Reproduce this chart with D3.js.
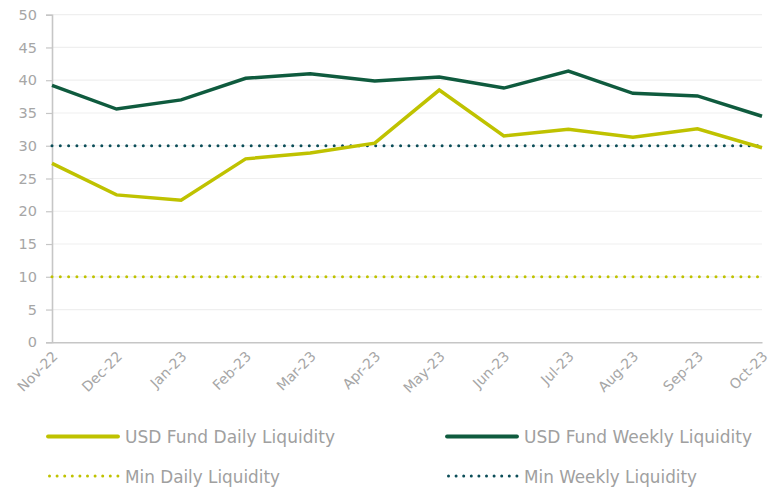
<!DOCTYPE html>
<html>
<head>
<meta charset="utf-8">
<script src="https://cdn.jsdelivr.net/npm/d3@7"></script>
<style>
  body { margin: 0; background: #fff; }
  svg { display: block; }
</style>
</head>
<body>
<svg id="chart" width="779" height="487"></svg>
<script>
const months = ["Nov-22", "Dec-22", "Jan-23", "Feb-23", "Mar-23", "Apr-23",
  "May-23", "Jun-23", "Jul-23", "Aug-23", "Sep-23", "Oct-23"]
const dailyLiquidity = [27.3, 22.5, 21.7, 28.0, 28.9, 30.4, 38.5, 31.5, 32.5, 31.3, 32.6, 29.7]
const weeklyLiquidity = [39.2, 35.6, 37.0, 40.3, 41.0, 39.9, 40.5, 38.8, 41.4, 38.0, 37.6, 34.5]
const minDaily = 10
const minWeekly = 30
const yTicks = [0, 5, 10, 15, 20, 25, 30, 35, 40, 45, 50]

const yellow = "#bfc200"
const green = "#0f5b3e"
const teal = "#0b4d58"
const gray = "#a6a6a6"

const svg = d3.select("#chart")

const x = d3.scalePoint()
  .domain(months)
  .range([52, 762])

const y = d3.scaleLinear()
  .domain([0, 50])
  .range([342.3, 14.7])

// gridlines
svg.append("g")
  .selectAll("line")
  .data(yTicks.filter(d => d > 0))
  .enter().append("line")
    .attr("x1", 52)
    .attr("x2", 762)
    .attr("y1", d => y(d))
    .attr("y2", d => y(d))
    .attr("stroke", "#efefef")
    .attr("stroke-width", 1.2)

// y axis
let yAxis = svg.append("g")
  .attr("transform", "translate(52,0)")
  .call(d3.axisLeft(y).tickValues(yTicks).tickSize(6).tickPadding(9))
yAxis.select(".domain").attr("stroke", "#c6c6c6").attr("stroke-width", 1.6)
yAxis.selectAll(".tick line").attr("stroke", "#c6c6c6").attr("stroke-width", 1.2)
yAxis.selectAll("text")
  .attr("fill", gray)
  .style("font-family", "'DejaVu Sans', sans-serif")
  .style("font-size", "14.5px")

// x axis
let xAxis = svg.append("g")
  .attr("transform", "translate(0," + y(0) + ")")
  .call(d3.axisBottom(x).tickSize(0).tickPadding(0))
xAxis.select(".domain").attr("stroke", "#c6c6c6").attr("stroke-width", 1.6)
xAxis.selectAll("text")
  .attr("fill", gray)
  .style("font-family", "'DejaVu Sans', sans-serif")
  .style("font-size", "14px")
  .attr("text-anchor", "end")
  .attr("dy", null)
  .attr("y", 0)
  .attr("transform", "translate(6,15) rotate(-45)")

// min reference lines
function dotted(value, color) {
  svg.append("line")
    .attr("x1", x(months[0]))
    .attr("x2", x(months[months.length - 1]))
    .attr("y1", y(value))
    .attr("y2", y(value))
    .attr("stroke", color)
    .attr("stroke-width", 3)
    .attr("stroke-linecap", "round")
    .attr("stroke-dasharray", "0 8.3")
}
dotted(minDaily, yellow)
dotted(minWeekly, teal)

let line = d3.line()
  .x((d, i) => x(months[i]))
  .y(d => y(d))

svg.append("path")
  .datum(dailyLiquidity)
  .attr("d", line)
  .attr("fill", "none")
  .attr("stroke", yellow)
  .attr("stroke-width", 3.5)

svg.append("path")
  .datum(weeklyLiquidity)
  .attr("d", line)
  .attr("fill", "none")
  .attr("stroke", green)
  .attr("stroke-width", 3.5)

// legend
const legendItems = [
  { name: "USD Fund Daily Liquidity", color: yellow, dots: false, lx: 48, ly: 436.5, w: 210 },
  { name: "USD Fund Weekly Liquidity", color: green, dots: false, lx: 447, ly: 436.5, w: 228 },
  { name: "Min Daily Liquidity", color: yellow, dots: true, lx: 48, ly: 476, w: 155 },
  { name: "Min Weekly Liquidity", color: teal, dots: true, lx: 447, ly: 476, w: 173 }
]

let legend = svg.append("g")
  .selectAll("g")
  .data(legendItems)
  .enter().append("g")
    .attr("transform", d => "translate(" + d.lx + "," + d.ly + ")")

legend.append("line")
  .attr("x1", d => d.dots ? 1.5 : 0)
  .attr("x2", 70)
  .attr("stroke", d => d.color)
  .attr("stroke-width", d => d.dots ? 3 : 3.8)
  .attr("stroke-linecap", "round")
  .attr("stroke-dasharray", d => d.dots ? "0 7.6" : null)

legend.append("text")
  .attr("x", 77)
  .attr("y", 6.5)
  .attr("fill", "#a0a0a0")
  .style("font-family", "'DejaVu Sans', sans-serif")
  .style("font-size", "17.5px")
  .attr("textLength", d => d.w)
  .attr("lengthAdjust", "spacingAndGlyphs")
  .text(d => d.name)
</script>
</body>
</html>
